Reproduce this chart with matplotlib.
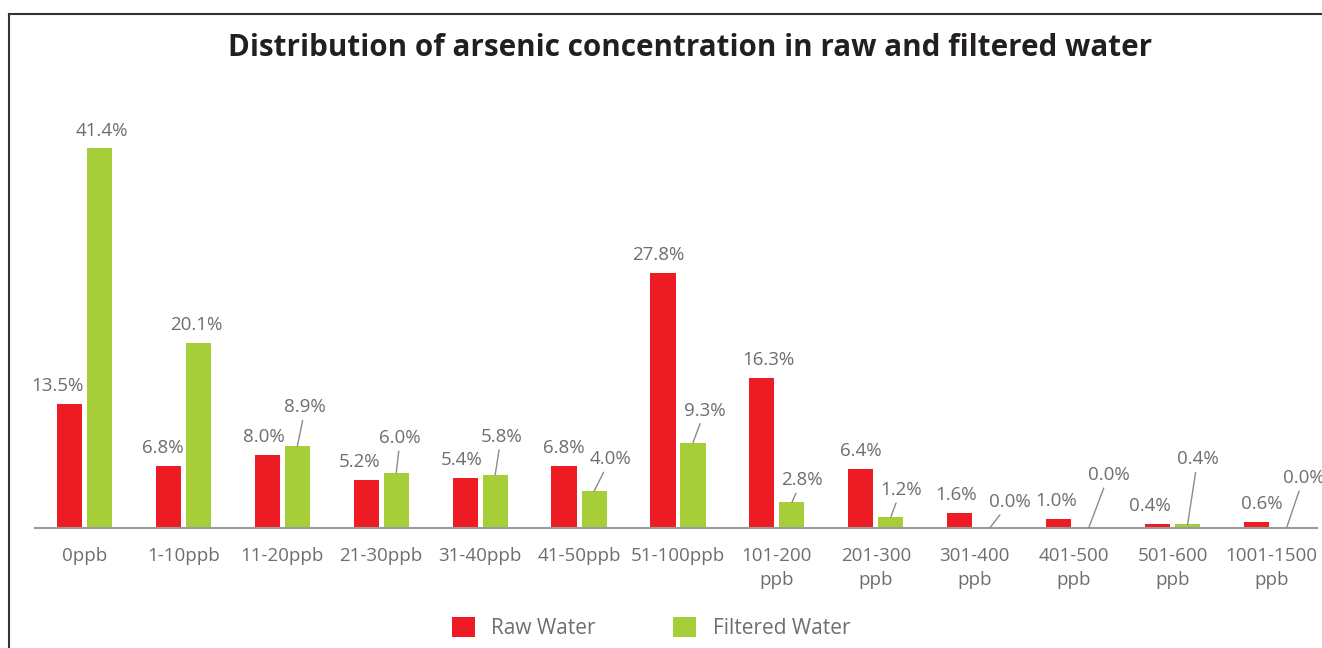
import numpy as np
import matplotlib
matplotlib.use("Agg")
import matplotlib.pyplot as plt
from matplotlib.lines import Line2D

categories = [
    "0ppb", "1-10ppb", "11-20ppb", "21-30ppb", "31-40ppb", "41-50ppb", "51-100ppb",
    "101-200\nppb", "201-300\nppb", "301-400\nppb", "401-500\nppb", "501-600\nppb",
    "1001-1500\nppb",
]
raw_water = [13.5, 6.8, 8.0, 5.2, 5.4, 6.8, 27.8, 16.3, 6.4, 1.6, 1.0, 0.4, 0.6]
filtered_water = [41.4, 20.1, 8.9, 6.0, 5.8, 4.0, 9.3, 2.8, 1.2, 0.0, 0.0, 0.4, 0.0]

# label placement, offset in pixels from the top centre of each bar (tuned by eye)
raw_dx = [-12, -6, -3, -7, -3, 0, -5, 7, 0, -4, -2, -8, 5]
green_dx = [2, -2, 8, 4, 6, 16, 12, 10, 10, 20, 20, 10, 17]
green_dy = [17, 18, 39, 35, 38, 32, 32, 22, 27, 26, 53, 65, 50]

RED = "#ed1c24"
GREEN = "#a6ce39"
TEXT = "#6d6e71"

plt.rcParams["font.family"] = ["Open Sans", "DejaVu Sans"]

fig = plt.figure(figsize=(13.22, 6.48), dpi=100)
ax = fig.add_axes([35 / 1322, 120 / 648, 1282 / 1322, 428 / 648])

x = np.arange(len(categories))
w = 0.254
off = 0.152
bars_raw = ax.bar(x - off, raw_water, w, color=RED, label="Raw Water")
bars_fil = ax.bar(x + off, filtered_water, w, color=GREEN, label="Filtered Water")

ax.set_xlim(-0.5, 12.46)
ax.set_ylim(0, 46.6)

for i, v in enumerate(raw_water):
    ax.annotate(f"{v:.1f}%", xy=(x[i] - off, v), xytext=(raw_dx[i], 18),
                textcoords="offset pixels", ha="center", va="center",
                fontsize=13.5, color=TEXT)

for i, v in enumerate(filtered_water):
    leader = None
    if green_dy[i] > 20:
        leader = dict(arrowstyle="-", color="#8a8a8a", lw=1.0, shrinkA=1, shrinkB=0)
    ax.annotate(f"{v:.1f}%", xy=(x[i] + off, v), xytext=(green_dx[i], green_dy[i]),
                textcoords="offset pixels", ha="center", va="center",
                fontsize=13.5, color=TEXT, arrowprops=leader)

for side in ["left", "right", "top"]:
    ax.spines[side].set_visible(False)
ax.spines["bottom"].set_color("#9b9b9b")
ax.spines["bottom"].set_linewidth(1.5)
ax.set_yticks([])
ax.set_xticks(x)
ax.set_xticklabels(categories, fontsize=13.5, color=TEXT, linespacing=1.4)
ax.tick_params(axis="x", length=0, pad=14)

fig.text(690 / 1322, 1 - 48 / 648, "Distribution of arsenic concentration in raw and filtered water",
         ha="center", va="center", fontsize=21.3, fontweight="bold", color="#231f20")

fig.legend(handles=[bars_raw, bars_fil], loc="center", bbox_to_anchor=(651 / 1322, 1 - 628 / 648),
           ncol=2, frameon=False, fontsize=15, handlelength=1.1, handleheight=1.1,
           handletextpad=0.8, columnspacing=3.7, labelcolor=TEXT)

# outer frame (top and left edges visible in the crop)
fig.add_artist(Line2D([9 / 1322, 1], [1 - 14 / 648, 1 - 14 / 648], color="#333333", lw=1.5))
fig.add_artist(Line2D([9 / 1322, 9 / 1322], [0, 1 - 14 / 648], color="#333333", lw=1.5))

fig.savefig("out.png", dpi=100)
